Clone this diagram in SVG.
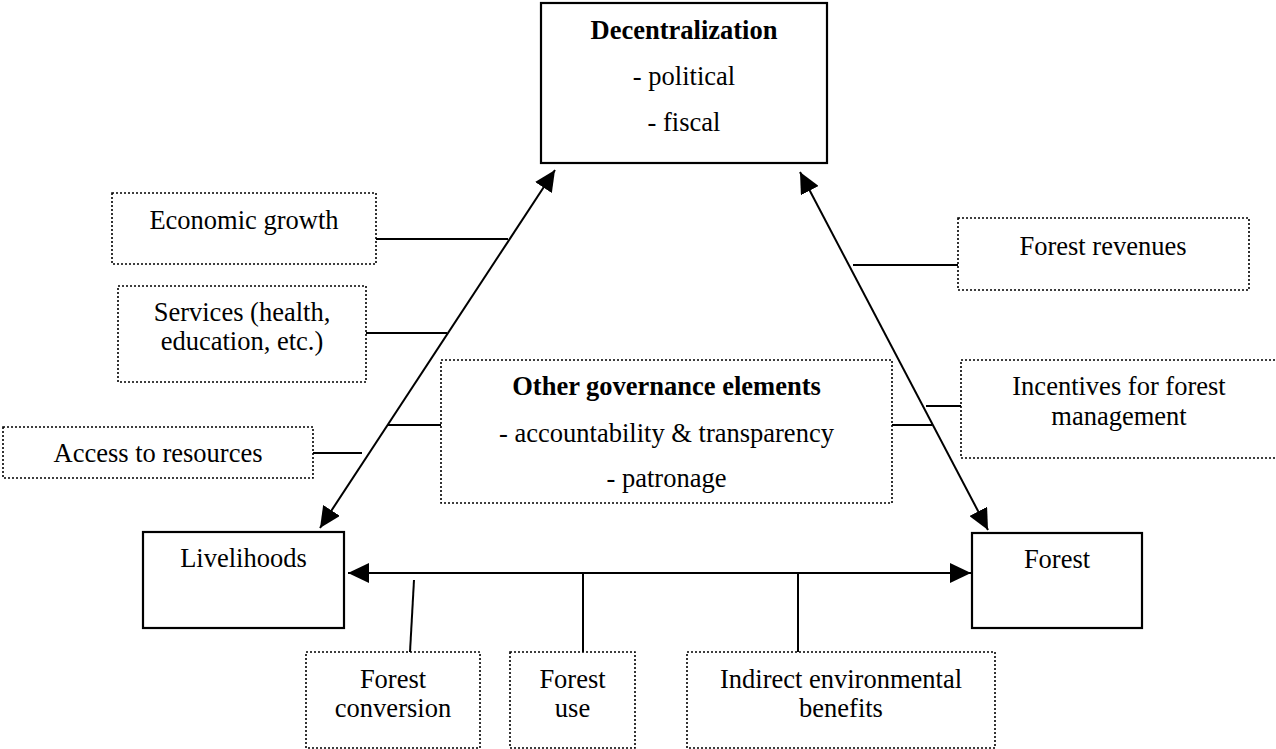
<svg xmlns="http://www.w3.org/2000/svg" width="1276" height="749" viewBox="0 0 1276 749">
<style>
  text { font-family: "Liberation Serif", "Times New Roman", serif; font-size: 26.5px; fill: #000; text-anchor: middle; }
  .b { font-weight: bold; }
  .solid { fill: #fff; stroke: #000; stroke-width: 2.2; }
  .dot { fill: #fff; stroke: #000; stroke-width: 1.6; stroke-dasharray: 2 2; }
  .ln { stroke: #000; stroke-width: 2; fill: none; }
  .arr { stroke: #000; stroke-width: 2; fill: none; marker-start: url(#ah); marker-end: url(#ah); }
</style>
<defs>
  <marker id="ah" markerUnits="userSpaceOnUse" markerWidth="22" markerHeight="20" refX="21" refY="10" orient="auto-start-reverse">
    <path d="M0,0 L21,10 L0,20 z" fill="#000"/>
  </marker>
</defs>
<rect width="1276" height="749" fill="#fff"/>

<g id="connectors">
  <line class="arr" x1="555" y1="170" x2="320" y2="528"/>
  <line class="arr" x1="800" y1="172" x2="988" y2="530"/>
  <line class="arr" x1="348" y1="573" x2="971" y2="573"/>
  <line class="ln" x1="376" y1="239" x2="508" y2="239"/>
  <line class="ln" x1="366" y1="333" x2="447" y2="333"/>
  <line class="ln" x1="313" y1="453" x2="362" y2="453"/>
  <line class="ln" x1="387" y1="425" x2="441" y2="425"/>
  <line class="ln" x1="884" y1="425" x2="932" y2="425"/>
  <line class="ln" x1="853" y1="265" x2="958" y2="265"/>
  <line class="ln" x1="926" y1="406" x2="961" y2="406"/>
  <line class="ln" x1="414" y1="580" x2="410" y2="652"/>
  <line class="ln" x1="583" y1="573" x2="583" y2="652"/>
  <line class="ln" x1="798" y1="573" x2="798" y2="652"/>
</g>

<g id="decentralization">
  <rect class="solid" x="541" y="3" width="286" height="160"/>
  <text class="b" x="684" y="39">Decentralization</text>
  <text x="684" y="85">- political</text>
  <text x="684" y="131">- fiscal</text>
</g>

<g id="livelihoods">
  <rect class="solid" x="143" y="532" width="201" height="96"/>
  <text x="243.5" y="567">Livelihoods</text>
</g>

<g id="forest">
  <rect class="solid" x="972" y="533" width="170" height="95"/>
  <text x="1057" y="568">Forest</text>
</g>

<g id="other-governance">
  <rect class="dot" x="441" y="360" width="451" height="143"/>
  <text class="b" x="666.5" y="395">Other governance elements</text>
  <text x="666.5" y="442">- accountability &amp; transparency</text>
  <text x="666.5" y="487">- patronage</text>
</g>

<g id="economic-growth">
  <rect class="dot" x="112" y="193" width="264" height="71"/>
  <text x="244" y="229">Economic growth</text>
</g>

<g id="services">
  <rect class="dot" x="118" y="286" width="248" height="96"/>
  <text x="242" y="321">Services (health,</text>
  <text x="242" y="350">education, etc.)</text>
</g>

<g id="access">
  <rect class="dot" x="3" y="427" width="310" height="51"/>
  <text x="158" y="462">Access to resources</text>
</g>

<g id="forest-revenues">
  <rect class="dot" x="958" y="218" width="291" height="72"/>
  <text x="1103" y="255">Forest revenues</text>
</g>

<g id="incentives">
  <rect class="dot" x="961" y="360" width="318" height="98"/>
  <text x="1119" y="395">Incentives for forest</text>
  <text x="1119" y="425">management</text>
</g>

<g id="forest-conversion">
  <rect class="dot" x="306" y="652" width="174" height="96"/>
  <text x="393" y="688">Forest</text>
  <text x="393" y="717">conversion</text>
</g>

<g id="forest-use">
  <rect class="dot" x="510" y="652" width="125" height="96"/>
  <text x="572.5" y="688">Forest</text>
  <text x="572.5" y="717">use</text>
</g>

<g id="indirect-benefits">
  <rect class="dot" x="687" y="652" width="308" height="96"/>
  <text x="841" y="688">Indirect environmental</text>
  <text x="841" y="717">benefits</text>
</g>
</svg>
